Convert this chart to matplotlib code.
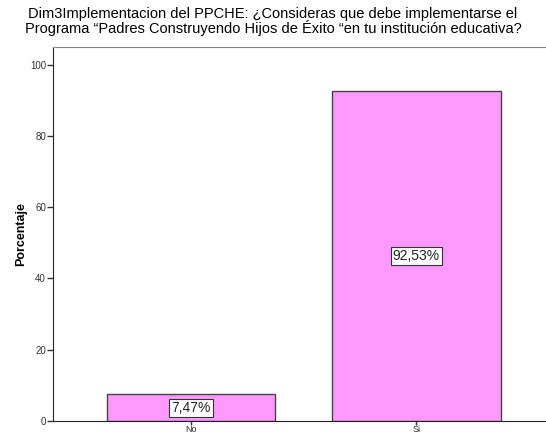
import matplotlib.pyplot as plt

plt.rcParams['font.family'] = ['Liberation Sans', 'DejaVu Sans']

categories = ['No', 'Si']
percent = [7.47, 92.53]
labels = ['7,47%', '92,53%']
yticks = [0, 20, 40, 60, 80, 100]

fig = plt.figure(figsize=(5.46, 4.36), dpi=100)
# plot area runs past the right edge, like the cropped original
ax = fig.add_axes([0.097, 0.0344, 0.918, 0.858])

x = range(len(categories))
ax.bar(x, percent, width=0.75, color='#ff99ff', edgecolor='#444444', linewidth=1)
for i, (v, lab) in enumerate(zip(percent, labels)):
    ax.text(i, v / 2, lab, ha='center', va='center', fontsize=10, color='#222222',
            bbox=dict(boxstyle='square,pad=0.15', facecolor='white', edgecolor='#333333', linewidth=0.8))

ax.set_xlim(-0.613, 1.613)
ax.set_ylim(0, 105)
ax.set_xticks(list(x))
ax.set_xticklabels(categories, fontsize=6.5, color='#333333')
ax.set_yticks(yticks)
ax.set_yticklabels([str(t) for t in yticks], fontsize=7, color='#333333')
ax.tick_params(length=4, width=1, color='#333333', pad=1)
ax.tick_params(axis='x', length=3, pad=0)

ax.spines['left'].set_color('#222222')
ax.spines['bottom'].set_color('#222222')
ax.spines['top'].set_color('#888888')
ax.spines['right'].set_visible(False)

ax.set_ylabel('Porcentaje', fontsize=9, fontweight='bold', labelpad=2)
fig.text(0.5, 0.985, 'Dim3Implementacion del PPCHE: ¿Consideras que debe implementarse el\n'
         'Programa “Padres Construyendo Hijos de Éxito “en tu institución educativa?',
         ha='center', va='top', fontsize=10.5, linespacing=0.95)

fig.savefig('out.png', dpi=100)
